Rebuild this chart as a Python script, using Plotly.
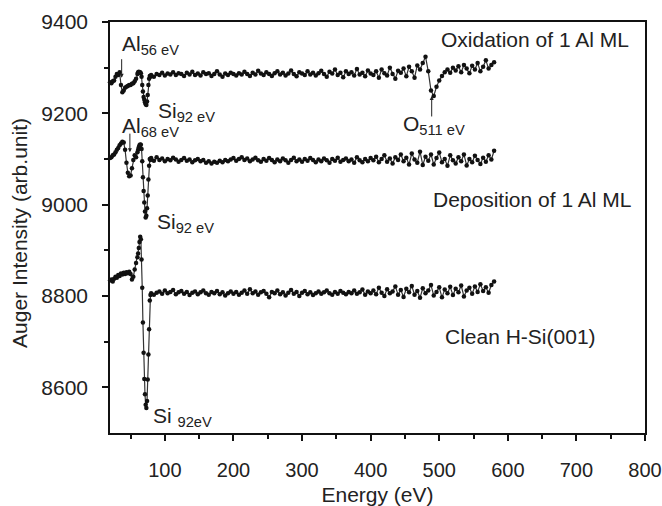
import plotly.graph_objects as go

# Energy grid (eV)
energy = list(range(20, 61, 2)) + list(range(61, 81, 1)) + list(range(84, 581, 4))

oxidation = [
    9268, 9266, 9270, 9272, 9280, 9286, 9284, 9290, 9262, 9246, 9250,
    9256, 9258, 9260, 9262, 9262, 9265, 9266, 9270, 9276, 9286,
    9290, 9291, 9289, 9290, 9288, 9280, 9262, 9248, 9236, 9230,
    9224, 9220, 9218, 9226, 9240, 9262, 9276, 9282, 9280, 9284,
    9280, 9286, 9284, 9289, 9283, 9287, 9285, 9290, 9284, 9288,
    9286, 9282, 9289, 9285, 9291, 9284, 9287, 9283, 9290, 9286,
    9288, 9282, 9286, 9292, 9285, 9280, 9287, 9284, 9289, 9286,
    9283, 9288, 9285, 9291, 9286, 9282, 9289, 9285, 9293, 9287,
    9284, 9290, 9286, 9282, 9288, 9292, 9285, 9289, 9283, 9287,
    9294, 9286, 9281, 9290, 9287, 9284, 9292, 9285, 9289, 9283,
    9288, 9293, 9286, 9280, 9291, 9287, 9296, 9284, 9289, 9279,
    9292, 9286, 9290, 9283, 9297, 9285, 9289, 9281, 9294, 9287,
    9284, 9292, 9278, 9296, 9288, 9283, 9300, 9286, 9276, 9293,
    9289, 9298, 9281, 9302, 9292, 9278, 9305, 9296, 9310, 9324,
    9292, 9250, 9238, 9258, 9272, 9282, 9290, 9296, 9289, 9300,
    9294, 9303, 9290, 9306, 9298, 9288, 9304, 9296, 9310, 9292,
    9302, 9316, 9298, 9306, 9312,
]

deposition = [
    9102, 9104, 9108, 9110, 9115, 9120, 9124, 9130, 9134, 9138, 9136,
    9120, 9092, 9070, 9062, 9064, 9080, 9098, 9108, 9104, 9115,
    9120, 9126, 9130, 9132, 9131, 9122, 9095, 9060, 9030, 9005,
    8985, 8972, 8976, 8992, 9020, 9055, 9085, 9100, 9098, 9102,
    9096, 9104, 9098, 9101, 9095, 9100, 9097, 9103, 9099, 9094,
    9098, 9102, 9096, 9099, 9093, 9097, 9100, 9095, 9098, 9092,
    9095, 9090, 9094, 9092, 9096, 9093, 9098, 9095, 9099, 9102,
    9096, 9100, 9104, 9098, 9101, 9095, 9099, 9103, 9097, 9094,
    9100, 9096, 9102, 9098, 9093, 9099, 9095, 9101, 9097, 9092,
    9098, 9103, 9095, 9099, 9094, 9100, 9096, 9102, 9098, 9093,
    9099, 9095, 9101, 9097, 9092, 9100, 9096, 9103, 9094, 9098,
    9101, 9095, 9099, 9092, 9104, 9097, 9093, 9100, 9095, 9102,
    9097, 9105, 9093, 9100, 9108, 9094, 9101, 9090, 9104, 9098,
    9110, 9095, 9103, 9088, 9112, 9099, 9092, 9116, 9087, 9105,
    9096, 9110, 9088, 9102, 9114, 9093, 9100, 9085, 9108, 9097,
    9090, 9104, 9095, 9110, 9086, 9100, 9093, 9107, 9098, 9089,
    9103, 9094, 9108, 9099, 9118,
]

clean = [
    8834, 8836, 8832, 8838, 8842, 8840, 8846, 8844, 8849, 8847, 8851,
    8848, 8852, 8850, 8853, 8848, 8836, 8842, 8858, 8872, 8885,
    8893, 8905, 8918, 8930, 8924, 8880, 8818, 8742, 8676, 8618,
    8585, 8562, 8555, 8570, 8617, 8672, 8727, 8790, 8802, 8806,
    8803, 8807, 8810, 8805, 8812, 8806, 8809, 8813, 8804, 8808,
    8811, 8805, 8809, 8802, 8807, 8810, 8804, 8808, 8812, 8806,
    8803, 8809, 8806, 8811, 8804, 8808, 8801, 8806, 8810, 8805,
    8809, 8803, 8807, 8812, 8805, 8815, 8806, 8810, 8803, 8808,
    8811, 8805, 8797, 8809, 8806, 8812, 8804, 8808, 8801, 8807,
    8813, 8805, 8809, 8800, 8807, 8811, 8804, 8808, 8802, 8806,
    8810, 8805, 8808, 8812, 8806, 8803, 8809, 8805, 8811, 8807,
    8804, 8809, 8806, 8812, 8805, 8808, 8814, 8803, 8810, 8806,
    8812, 8804, 8818, 8807, 8800, 8815, 8806, 8810, 8821, 8803,
    8813, 8798, 8816, 8808, 8822, 8803, 8811, 8796, 8817, 8806,
    8812, 8824, 8801, 8809, 8819, 8797, 8814, 8806, 8820, 8802,
    8816, 8808, 8823, 8799, 8812, 8818, 8805, 8821, 8809, 8826,
    8811, 8819, 8807, 8824, 8832,
]

series_names = ["Oxidation of 1 Al ML", "Deposition of 1 Al ML", "Clean H-Si(001)"]
x_ticks = [100, 200, 300, 400, 500, 600, 700, 800]
y_ticks = [8600, 8800, 9000, 9200, 9400]

FONT = "Liberation Sans, Arial, sans-serif"
TXT = "#222222"
FS = 21

fig = go.Figure()
for name, vals in zip(series_names, [oxidation, deposition, clean]):
    fig.add_trace(go.Scatter(
        x=energy, y=vals, name=name, mode="lines+markers",
        line=dict(color="#333333", width=1.2),
        marker=dict(color="#111111", size=4.5),
        showlegend=False, cliponaxis=False,
    ))

labels = [
    # text, x, y, xanchor
    ("Oxidation of 1 Al ML", 640, 9361, "center"),
    ("Deposition of 1 Al ML", 635, 9012, "center"),
    ("Clean H-Si(001)", 618, 8712, "center"),
    ("Al<sub>56 eV</sub>", 35, 9350, "left"),
    ("Si<sub>92 eV</sub>", 87, 9203, "left"),
    ("Al<sub>68 eV</sub>", 35, 9170, "left"),
    ("Si<sub>92 eV</sub>", 85, 8960, "left"),
    ("O<sub>511 eV</sub>", 444, 9175, "left"),
    ("Si <sub>92eV</sub>", 80, 8535, "left"),
]
for text, x, y, xa in labels:
    fig.add_annotation(x=x, y=y, text=text, showarrow=False, xanchor=xa,
                       yanchor="middle", font=dict(family=FONT, size=FS, color=TXT))

arrows = [
    # tip x, tip y, ax offset, ay offset (px)
    (37, 9278, 0, -20),
    (49, 9115, 0, -20),
    (489, 9238, 0, 22),
]
for x, y, ax, ay in arrows:
    fig.add_annotation(x=x, y=y, ax=ax, ay=ay, text="", showarrow=True,
                       arrowhead=2, arrowsize=0.8, arrowwidth=1, arrowcolor="#222222")

# y-axis title placed as rotated annotation
fig.add_annotation(xref="paper", yref="paper", x=-0.168, y=0.487,
                   text="Auger Intensity (arb.unit)", textangle=-90, showarrow=False,
                   xanchor="center", yanchor="middle",
                   font=dict(family=FONT, size=FS, color=TXT))

fig.update_layout(
    width=662, height=506,
    margin=dict(l=110, r=17, t=22, b=73),
    paper_bgcolor="white", plot_bgcolor="white",
    font=dict(family=FONT, size=FS, color=TXT),
)
fig.update_xaxes(
    range=[20, 800], tickvals=x_ticks, ticks="outside", ticklen=6, tickwidth=1.5,
    tickcolor="#111", showline=True, linecolor="#111", linewidth=1.5, mirror=True,
    showgrid=False, zeroline=False, ticklabelstandoff=12, automargin=False,
    ticklabeloverflow="allow", tickfont=dict(size=20),
    minor=dict(tickvals=[50, 150, 250, 350, 450, 550, 650, 750], ticks="outside",
               ticklen=4, tickwidth=1.5, tickcolor="#111"),
    title=dict(text="Energy (eV)", standoff=10, font=dict(size=FS)),
)
fig.update_yaxes(
    range=[8500, 9400], tickvals=y_ticks, ticks="outside", ticklen=6, tickwidth=1.5,
    tickcolor="#111", showline=True, linecolor="#111", linewidth=1.5, mirror=True,
    showgrid=False, zeroline=False, ticklabelstandoff=10, automargin=False,
    minor=dict(tickvals=[8700, 8900, 9100, 9300], ticks="outside",
               ticklen=4, tickwidth=1.5, tickcolor="#111"),
)

fig.write_html("out.html", config={"displayModeBar": False},
               post_script="document.body.style.margin='0';document.body.style.overflow='hidden';")
